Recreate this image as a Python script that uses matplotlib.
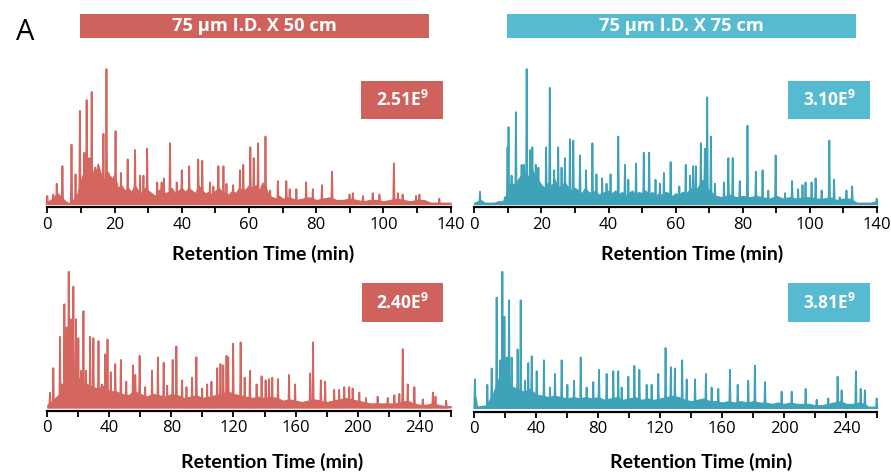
import matplotlib
matplotlib.use("Agg")
import matplotlib.pyplot as plt

plt.rcParams['font.family'] = ['Open Sans', 'DejaVu Sans']
plt.rcParams['mathtext.fontset'] = 'custom'
plt.rcParams['mathtext.rm'] = 'Open Sans:bold'

red_bar = "#d0625d"
red_line = "#d4655f"
blue_bar = "#56bad0"
blue_line = "#3ea2b8"

# --- 75 um x 50 cm, 120 min gradient (peak apex time, relative height) ---
tl_t = [0.0, 1.8, 2.8, 4.5, 7.2, 8.4, 9.7, 11.0, 11.7, 12.5, 13.2, 14.2, 15.4, 16.7, 17.6,
        18.9, 20.3, 21.9, 23.9, 26.1, 27.6, 28.6, 29.7, 32.7, 34.0, 34.7, 36.5, 38.5, 40.0,
        42.2, 44.9, 46.1, 48.4, 49.4, 50.9, 52.4, 53.3, 55.3, 57.3, 58.3, 60.4, 61.4, 62.7,
        64.9, 66.3, 68.6, 71.1, 72.1, 74.1, 77.0, 79.0, 81.7, 84.7, 89.9, 90.9, 93.9, 96.8,
        98.8, 103.1, 104.3, 105.7, 109.7, 110.7, 116.6]
tl_h = [6, 7, 15, 28, 44, 22, 69, 38, 77, 34, 83, 27, 25, 52, 100,
        20, 54, 23, 33, 40, 21, 21, 41, 16, 16, 19, 45, 16, 25,
        28, 33, 32, 16, 13, 28, 28, 15, 14, 25, 29, 42, 34, 45,
        50, 10, 17, 17, 11, 11, 16, 11, 14, 24, 7, 8, 6, 8,
        7, 30, 8, 7, 6, 7, 4]
# dense background under the peaks
tl_floor_t = list(range(0, 71)) + list(range(72, 121, 2))
tl_floor_h = [2, 3, 5, 8, 6, 3, 1, 1, 4, 8,
              18, 25, 22, 28, 20, 30, 22, 18, 24, 18, 22,
              12, 14, 10, 12, 9, 14, 10, 8, 12, 10,
              8, 6, 10, 12, 8, 9, 12, 8, 10, 12,
              9, 12, 10, 8, 14, 10, 8, 9, 7, 10,
              12, 9, 8, 7, 10, 8, 12, 10, 11, 14,
              12, 14, 10, 16, 12, 6, 5, 4, 6, 4,
              5, 3, 4, 5, 3, 4, 5, 3, 3, 4, 3, 2, 3, 3, 2, 3, 4, 3, 2, 3, 3, 1, 1, 1, 1]

# --- 75 um x 75 cm, 120 min gradient ---
tr_t = [1.7, 9.1, 9.9, 10.2, 11.1, 12.4, 13.3, 14.1, 14.8, 15.6, 16.6, 17.3, 18.3, 19.1,
        21.4, 22.5, 23.8, 25.0, 26.0, 27.0, 28.5, 29.5, 31.5, 33.3, 35.2, 36.4, 38.1, 39.4,
        40.6, 42.9, 44.9, 45.9, 48.2, 50.5, 52.1, 54.0, 55.3, 56.5, 58.5, 61.1, 63.0, 64.3,
        65.2, 66.0, 67.5, 68.7, 69.4, 70.5, 71.7, 74.4, 75.7, 77.0, 79.1, 81.4, 83.9, 85.9,
        87.6, 89.8, 92.6, 94.7, 96.5, 97.8, 98.7, 100.5, 101.7, 103.5, 105.8, 107.2, 108.9,
        110.9, 112.6, 119.9]
tr_h = [9, 5, 42, 57, 21, 68, 18, 29, 29, 100, 40, 42, 29, 27,
        42, 86, 25, 42, 27, 34, 48, 47, 36, 25, 45, 22, 19, 15,
        22, 50, 29, 18, 30, 38, 38, 18, 15, 23, 31, 13, 29, 21,
        28, 28, 45, 41, 79, 50, 15, 16, 34, 34, 17, 58, 24, 25,
        10, 36, 8, 17, 11, 14, 16, 16, 19, 10, 47, 18, 5,
        10, 13, 4]
tr_floor_t = list(range(0, 71)) + list(range(72, 121, 2))
tr_floor_h = [1, 2, 3, 1, 1, 1, 1, 2, 2, 3,
              12, 16, 14, 18, 22, 24, 20, 26, 22, 18, 14,
              12, 16, 14, 18, 12, 14, 16, 12, 10, 12,
              10, 8, 12, 9, 8, 10, 7, 8, 9, 10,
              8, 10, 7, 9, 6, 8, 10, 7, 9, 8,
              10, 7, 9, 6, 8, 7, 9, 8, 6, 8,
              7, 9, 8, 10, 12, 10, 14, 18, 14, 10,
              6, 5, 7, 5, 6, 5, 6, 5, 4, 6, 4, 5, 4, 5, 5, 4, 4, 5, 3, 4, 4, 1, 1, 1, 2]

# --- 75 um x 50 cm, 240 min gradient ---
bl_t = [1.7, 3.9, 8.2, 9.3, 11.0, 12.5, 13.8, 15.1, 16.8, 18.5, 20.0, 21.8, 23.3, 25.0,
        27.6, 29.7, 33.0, 35.1, 37.3, 38.8, 40.9, 43.8, 47.4, 50.9, 55.2, 56.7, 59.5, 63.1,
        67.5, 71.3, 75.0, 77.2, 80.8, 83.2, 86.9, 89.7, 93.3, 96.1, 99.8, 103.0, 105.8,
        109.5, 111.6, 113.4, 115.5, 116.6, 119.8, 124.6, 127.2, 130.6, 134.9, 138.1, 140.7,
        142.9, 145.0, 148.7, 155.8, 159.7, 169.4, 171.3, 176.3, 179.1, 184.9, 188.1, 191.4,
        194.6, 196.8, 201.1, 205.4, 212.9, 219.4, 223.7, 226.9, 229.1, 232.3, 236.6, 242.0,
        248.5, 250.2, 257.1]
bl_h = [11, 29, 52, 17, 76, 59, 100, 65, 89, 65, 51, 27, 71, 27,
        52, 51, 49, 17, 39, 50, 26, 32, 35, 19, 31, 24, 38, 15,
        27, 37, 33, 16, 35, 45, 20, 15, 22, 37, 14, 17, 19,
        29, 32, 31, 38, 37, 47, 48, 22, 27, 17, 23, 20,
        21, 22, 21, 24, 17, 25, 48, 20, 19, 13, 13, 15,
        15, 14, 11, 7, 8, 7, 9, 10, 43, 17, 15, 6,
        11, 8, 5]
bl_floor_t = list(range(0, 261, 4))
bl_floor_h = [2, 6, 10, 22, 26, 22, 18, 16, 14, 16, 12, 12, 10, 9, 12, 10, 8, 10, 9, 8,
              10, 9, 7, 8, 9, 7, 8, 9, 10, 12, 10, 9, 8, 7, 8, 7, 8, 7, 5, 6,
              5, 4, 5, 6, 5, 4, 5, 6, 7, 6, 5, 4, 3, 3, 3, 3, 3, 4, 5, 3,
              2, 2, 3, 2, 1, 1]

# --- 75 um x 75 cm, 240 min gradient ---
br_t = [0.6, 8.6, 11.4, 14.6, 16.8, 18.3, 19.6, 21.1, 22.6, 24.3, 28.1, 30.1, 32.9, 35.0,
        37.2, 40.4, 45.1, 49.0, 52.2, 56.5, 60.2, 64.5, 68.8, 72.6, 76.9, 80.6, 85.5, 89.8,
        93.0, 95.2, 99.5, 103.4, 106.6, 111.3, 114.5, 118.8, 123.5, 126.9, 129.5, 134.2,
        137.1, 142.5, 149.5, 153.2, 157.5, 165.0, 170.0, 176.8, 181.1, 187.6, 198.3, 204.8,
        213.8, 220.9, 228.4, 234.4, 237.0, 246.2, 249.3, 252.0, 259.6]
br_h = [21, 17, 29, 81, 35, 100, 67, 37, 79, 37, 43, 79, 20, 33,
        38, 27, 35, 15, 25, 35, 17, 20, 37, 15, 19, 28, 25, 27,
        27, 15, 23, 31, 28, 17, 17, 25, 44, 30, 29, 35,
        21, 21, 25, 15, 14, 28, 17, 20, 31, 19, 12, 12,
        14, 6, 7, 23, 13, 27, 14, 13, 7]
br_floor_t = [0, 1, 2] + list(range(8, 253, 4)) + [254, 260]
br_floor_h = [1, 8, 1, 2, 10, 22, 20, 16, 14, 12, 14, 10, 9, 8, 9, 8, 7, 8, 7, 8,
              7, 8, 6, 7, 8, 6, 7, 8, 6, 7, 6, 7, 8, 9, 8, 6, 5, 6, 7, 5,
              5, 4, 5, 4, 5, 4, 5, 4, 4, 3, 4, 3, 4, 3, 3, 3, 2, 2, 3, 4,
              5, 3, 3, 4, 3, 1, 1]

W, H = 891, 473
fig = plt.figure(figsize=(W / 100, H / 100), dpi=100)


def px_axes(x0, x1, y_axis, y_top):
    # pixel box (from top-left) -> figure fraction
    return fig.add_axes([x0 / W, 1 - y_axis / H, (x1 - x0) / W, (y_axis - y_top) / H])


def chromatogram(ax, t, h, ft, fh, xmax, w, color, major, minor, labels):
    xs, ys = [], []
    for ti, hi in zip(t, h):
        xs += [ti - w, ti, ti + w]
        ys += [0, hi, 0]
    ax.fill_between(ft, fh, 0, color=color, lw=0.8, edgecolor=color)
    ax.fill(xs, ys, color=color, lw=0)
    ax.plot(xs, ys, color=color, lw=1.3, clip_on=False)
    ax.set_xlim(0, xmax)
    ax.set_ylim(-2.6, 100)
    for s in ["top", "left", "right"]:
        ax.spines[s].set_visible(False)
    ax.spines["bottom"].set_linewidth(1.6)
    ax.set_yticks([])
    ax.set_xticks(major)
    ax.set_xticks(minor, minor=True)
    ax.set_xticklabels(labels)
    ax.tick_params(axis="x", which="both", direction="out", length=4.5, width=1.3,
                   labelsize=12, pad=2)
    ax.patch.set_alpha(0)


top_labels = ["0", "20", "40", "60", "80", "100", "140"]
ax1 = px_axes(47.3, 450.7, 207.5, 69)
chromatogram(ax1, tl_t, tl_h, tl_floor_t, tl_floor_h, 120, 0.2, red_line,
             range(0, 121, 20), range(0, 121, 10), top_labels)
ax2 = px_axes(474.3, 877.0, 207.5, 69)
chromatogram(ax2, tr_t, tr_h, tr_floor_t, tr_floor_h, 120, 0.2, blue_line,
             range(0, 121, 20), range(0, 121, 10), top_labels)
ax3 = px_axes(47.3, 450.7, 411, 271.7)
chromatogram(ax3, bl_t, bl_h, bl_floor_t, bl_floor_h, 260, 0.4, red_line,
             range(0, 241, 40), range(0, 261, 20), [str(v) for v in range(0, 241, 40)])
ax4 = px_axes(474.0, 877.3, 411.5, 271.7)
chromatogram(ax4, br_t, br_h, br_floor_t, br_floor_h, 260, 0.4, blue_line,
             range(0, 241, 40), range(0, 261, 20), [str(v) for v in range(0, 241, 40)])


def fx(x):
    return x / W


def fy(y):
    return 1 - y / H


def box(x0, x1, y0, y1, color, text, size):
    fig.patches.append(plt.Rectangle((fx(x0), fy(y1)), fx(x1 - x0), (y1 - y0) / H,
                                     transform=fig.transFigure, color=color, lw=0))
    fig.text(fx((x0 + x1) / 2), fy((y0 + y1) / 2), text, color="white", fontsize=size,
             fontweight="bold", ha="center", va="center")


box(80, 429, 13.7, 38.3, red_bar, "75 µm I.D. X 50 cm", 13.2)
box(507.3, 855.7, 13.7, 38.3, blue_bar, "75 µm I.D. X 75 cm", 13.2)
box(361, 443.3, 81, 119.3, red_bar, "2.51E$^{9}$", 12.5)
box(788.3, 870, 81, 119.3, blue_bar, "3.10E$^{9}$", 12.5)
box(361.7, 443.3, 283.3, 321.7, red_bar, "2.40E$^{9}$", 12.5)
box(788.3, 870, 283.3, 321.7, blue_bar, "3.81E$^{9}$", 12.5)

fig.text(fx(25), fy(33), "A", fontsize=21, ha="center", va="center")

for xc, yc in [(263, 254), (692.5, 254), (271.7, 461.5), (700.8, 461.5)]:
    fig.text(fx(xc), fy(yc), "Retention Time (min)", fontsize=14, fontweight="bold",
             family=["Lato", "DejaVu Sans"], ha="center", va="center")

fig.savefig("out.png", dpi=100)
